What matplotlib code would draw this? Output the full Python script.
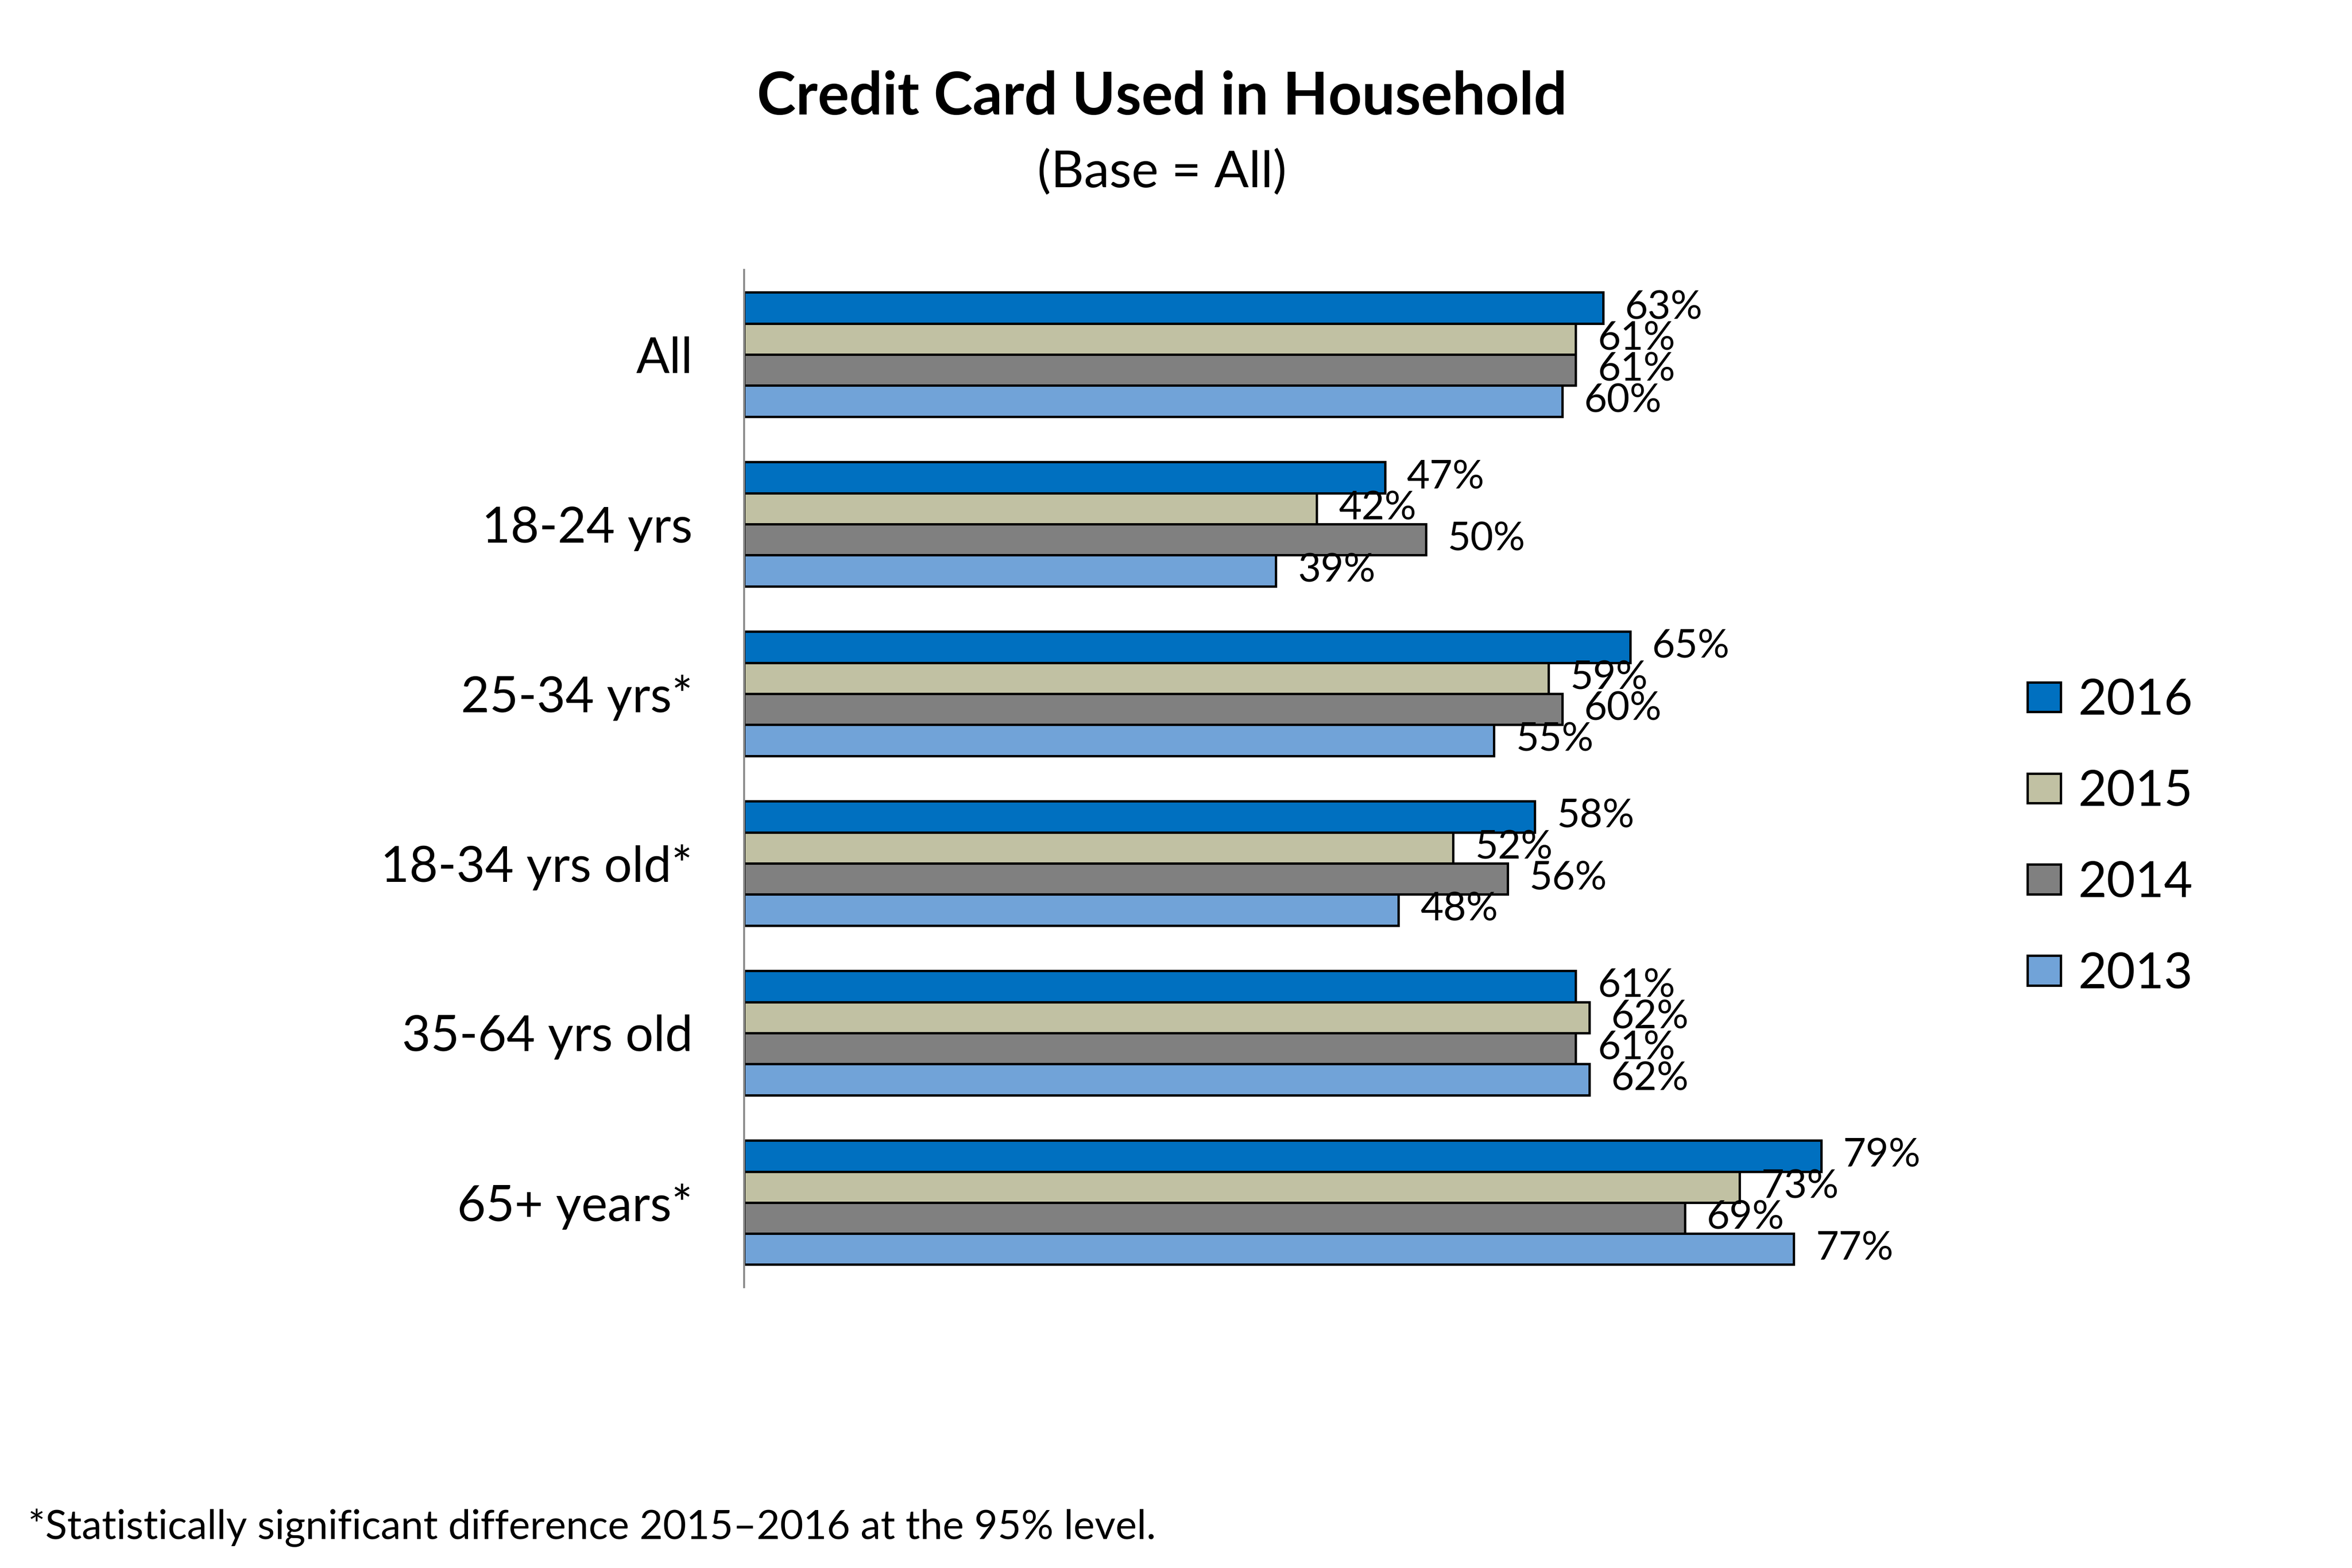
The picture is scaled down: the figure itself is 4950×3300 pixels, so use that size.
import matplotlib.pyplot as plt
import numpy as np
import matplotlib as mpl

mpl.rcParams['font.family'] = ['Lato', 'DejaVu Sans']

categories = ["All", "18-24 yrs", "25-34 yrs*", "18-34 yrs old*", "35-64 yrs old", "65+ years*"]
years = ["2016", "2015", "2014", "2013"]
values_2016 = [63, 47, 65, 58, 61, 79]
values_2015 = [61, 42, 59, 52, 62, 73]
values_2014 = [61, 50, 60, 56, 61, 69]
values_2013 = [60, 39, 55, 48, 62, 77]

series = [values_2016, values_2015, values_2014, values_2013]
colors = ["#0070C0", "#C1C1A3", "#808080", "#71A3D8"]

fig = plt.figure(figsize=(16.5, 11), dpi=300)
ax = fig.add_axes([0.3164, 0.179, 0.896 - 0.3164, 0.828 - 0.179])

y = np.arange(len(categories))
h = 0.183
handles = []
for i, (vals, col, yr) in enumerate(zip(series, colors, years)):
    pos = y + (i - 1.5) * h
    bars = ax.barh(pos, vals, height=h, color=col, edgecolor='black',
                   linewidth=1.2, label=yr)
    handles.append(bars)
    for p, v in zip(pos, vals):
        ax.annotate(f"{v}%", xy=(v, p), xytext=(11, 0), textcoords='offset points',
                    va='center', ha='left', fontsize=20)

ax.set_xlim(0, 100)
ax.set_ylim(len(categories) - 0.5, -0.5)
ax.set_yticks(y)
ax.set_yticklabels(categories, fontsize=25)
ax.tick_params(axis='y', length=0, pad=26)
ax.xaxis.set_visible(False)
for s in ['top', 'right', 'bottom']:
    ax.spines[s].set_visible(False)
ax.spines['left'].set_color('#8c8c8c')
ax.spines['left'].set_linewidth(1.0)

fig.legend(handles=handles, labels=years, loc='center left',
           bbox_to_anchor=(0.862, 0.466), frameon=False, fontsize=25,
           handlelength=0.67, handleheight=0.55, handletextpad=0.35,
           labelspacing=0.93, borderpad=0, borderaxespad=0)

fig.text(0.494, 0.938, "Credit Card Used in Household", ha='center', va='center',
         fontsize=29.7, fontweight='bold')
fig.text(0.494, 0.890, "(Base = All)", ha='center', va='center', fontsize=25.8)
fig.text(0.012, 0.026, "*Statistically significant difference 2015\u20132016 at the 95% level.",
         ha='left', va='center', fontsize=20.4)

fig.savefig("out.png", dpi=300)
